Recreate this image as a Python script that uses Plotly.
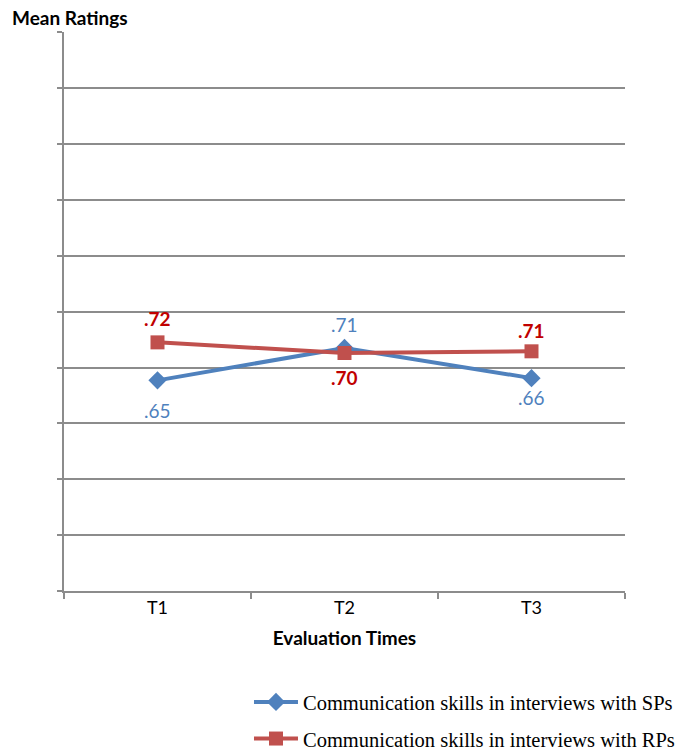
import plotly.graph_objects as go

categories = ["T1", "T2", "T3"]
sp_values = [0.652, 0.710, 0.656]
rp_values = [0.720, 0.701, 0.704]
sp_labels = [".65", ".71", ".66"]
rp_labels = [".72", ".70", ".71"]
sp_name = "Communication skills in interviews with SPs"
rp_name = "Communication skills in interviews with RPs"

BLUE = "#4F81BD"
RED = "#C0504D"
DARKRED = "#C00000"
GRID = "#8C8C8C"
SANS = "Lato, Open Sans, sans-serif"

fig = go.Figure()
fig.add_trace(go.Scatter(
    x=categories, y=sp_values, name=sp_name, mode="lines+markers", legendgroup="sp",
    line=dict(color=BLUE, width=4),
    marker=dict(symbol="diamond", size=14, color=BLUE),
))
fig.add_trace(go.Scatter(
    x=categories, y=rp_values, name=rp_name, mode="lines+markers", legendgroup="rp",
    line=dict(color=RED, width=4),
    marker=dict(symbol="square", size=14, color=RED),
))

sp_shift = [-30, 23, -19]
rp_shift = [24, -25, 21]
for c, v, t, s in zip(categories, sp_values, sp_labels, sp_shift):
    fig.add_annotation(x=c, y=v, text=t, showarrow=False, yshift=s,
                       font=dict(family=SANS, size=19, color=BLUE))
for c, v, t, s in zip(categories, rp_values, rp_labels, rp_shift):
    fig.add_annotation(x=c, y=v, text="<b>" + t + "</b>", showarrow=False, yshift=s,
                       font=dict(family=SANS, size=19, color=DARKRED))

fig.add_annotation(xref="paper", yref="paper", x=-0.095, y=1.004, xanchor="left", yanchor="bottom",
                   text="<b>Mean Ratings</b>", showarrow=False, borderpad=0,
                   font=dict(family=SANS, size=19, color="black"))

fig.update_layout(
    width=677, height=744,
    margin=dict(l=56, r=60, t=24, b=161, autoexpand=False),
    paper_bgcolor="white", plot_bgcolor="white",
    showlegend=True,
    legend=dict(xref="container", yref="container", x=0.9926, xanchor="right", y=0.094, yanchor="top",
                font=dict(family="Liberation Serif, Times New Roman, serif", size=20.5, color="black"),
                tracegroupgap=7, itemwidth=44, bgcolor="rgba(0,0,0,0)"),
    xaxis=dict(
        type="category", range=[-0.5, 2.5],
        showgrid=False, showline=True, linecolor=GRID, linewidth=1.5,
        ticks="outside", tickson="boundaries", ticklen=6, tickcolor=GRID, tickwidth=1.5,
        tickfont=dict(family=SANS, size=18, color="black"),
        title=dict(text="<b>Evaluation Times</b>", font=dict(family=SANS, size=19, color="black"), standoff=14),
    ),
    yaxis=dict(
        range=[0.275, 1.2755], tick0=0.275, dtick=0.1,
        showgrid=True, gridcolor=GRID, gridwidth=1.5,
        showline=True, linecolor=GRID, linewidth=1.5,
        ticks="outside", ticklen=5, tickcolor=GRID, tickwidth=1.5,
        showticklabels=False, zeroline=False,
    ),
)

fig.write_html("out.html")
